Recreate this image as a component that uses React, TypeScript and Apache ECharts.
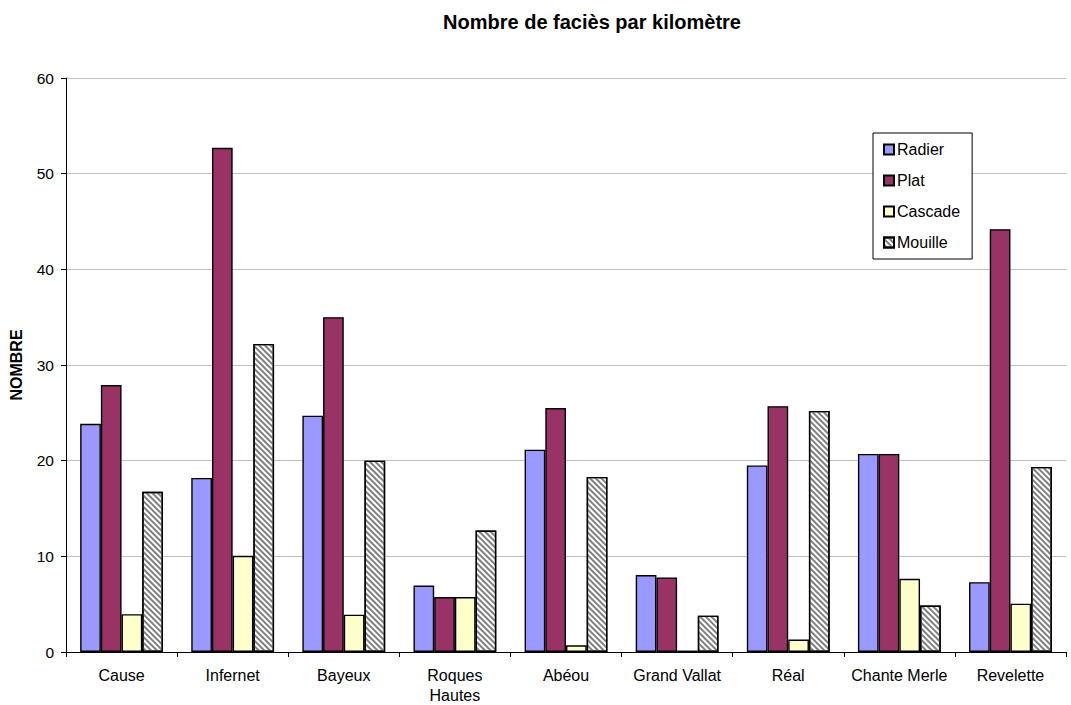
import React, { useEffect, useRef } from "react";
import * as echarts from "echarts";

const categories = ["Cause", "Infernet", "Bayeux", "Roques\nHautes", "Abéou", "Grand Vallat", "Réal", "Chante Merle", "Revelette"];
const radier = [23.85, 18.2, 24.7, 6.95, 21.15, 8.05, 19.5, 20.7, 7.3];
const plat = [27.9, 52.7, 35.0, 5.75, 25.5, 7.8, 25.7, 20.7, 44.2];
const cascade = [3.95, 10.05, 3.9, 5.75, 0.7, 0.15, 1.3, 7.65, 5.05];
const mouille = [16.75, 32.2, 20.0, 12.7, 18.3, 3.8, 25.2, 4.85, 19.35];
const yTicks = { min: 0, max: 60, interval: 10 };

const FONT = "'Liberation Sans', Arial, sans-serif";

export default function App() {
  const ref = useRef<HTMLDivElement>(null);
  useEffect(() => {
    if (!ref.current) return;
    const chart = echarts.init(ref.current, undefined, { renderer: "svg" });
    const barBase = {
      type: "bar" as const,
      barWidth: 20.7,
      barGap: "0%",
    };
    const border = { borderColor: "#000", borderWidth: 1.4 };
    chart.setOption({
      animation: false,
      backgroundColor: "#fff",
      title: {
        text: "Nombre de faciès par kilomètre",
        left: 587,
        textAlign: "center",
        top: 7,
        textStyle: { fontFamily: FONT, fontSize: 20, fontWeight: "bold", color: "#000" },
      },
      legend: {
        orient: "vertical",
        left: 873,
        top: 133,
        padding: [8.5, 12, 8.5, 10],
        itemGap: 15,
        itemWidth: 10,
        itemHeight: 10,
        icon: "rect",
        borderColor: "#000",
        borderWidth: 1,
        backgroundColor: "#fff",
        textStyle: { fontFamily: FONT, fontSize: 16, color: "#000", padding: [0, 0, 0, -2] },
        data: ["Radier", "Plat", "Cascade", "Mouille"],
      },
      grid: { left: 66, right: 5, top: 78, bottom: 51, containLabel: false },
      xAxis: {
        type: "category",
        data: categories,
        axisLine: { lineStyle: { color: "#000", width: 1 } },
        axisTick: { show: true, length: 5, lineStyle: { color: "#000" } },
        axisLabel: { fontFamily: FONT, fontSize: 16, color: "#000", margin: 13, lineHeight: 20, interval: 0 },
        splitLine: { show: false },
      },
      yAxis: {
        type: "value",
        min: yTicks.min,
        max: yTicks.max,
        interval: yTicks.interval,
        name: "NOMBRE",
        nameLocation: "middle",
        nameGap: 42,
        nameTextStyle: { fontFamily: FONT, fontSize: 16, fontWeight: "bold", color: "#000" },
        axisLine: { show: true, lineStyle: { color: "#000", width: 1 } },
        axisTick: { show: true, length: 5, lineStyle: { color: "#000" } },
        axisLabel: { fontFamily: FONT, fontSize: 15.5, color: "#000", margin: 12 },
        splitLine: { show: true, lineStyle: { color: "#c0c0c0", width: 1 } },
      },
      series: [
        { ...barBase, name: "Radier", data: radier, itemStyle: { color: "#9999ff", ...border } },
        { ...barBase, name: "Plat", data: plat, itemStyle: { color: "#993366", ...border } },
        { ...barBase, name: "Cascade", data: cascade, itemStyle: { color: "#ffffcc", ...border } },
        {
          ...barBase,
          name: "Mouille",
          data: mouille,
          itemStyle: {
            color: "#ffffff",
            ...border,
            decal: {
              symbol: "rect",
              symbolSize: 1,
              dashArrayX: [1, 0],
              dashArrayY: [2, 2],
              rotation: Math.PI / 4,
              color: "#808080",
            },
          },
        },
      ],
    });
    return () => chart.dispose();
  }, []);
  return <div ref={ref} style={{ position: "absolute", left: 0, top: 0, width: 1071, height: 705 }} />;
}
